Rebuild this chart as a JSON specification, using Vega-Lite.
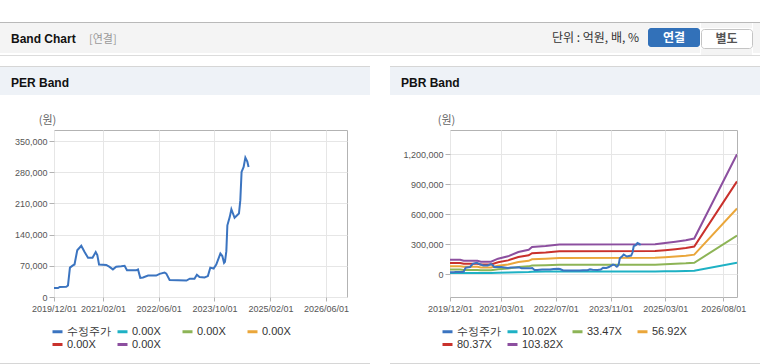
{
  "$schema": "https://vega.github.io/schema/vega-lite/v6.json",
  "padding": {"top": 22, "left": 0, "right": 0, "bottom": 0},
  "background": "white",
  "spacing": 0,
  "config": {
    "view": {"stroke": null},
    "font": "Liberation Sans",
    "title": {"anchor": "start", "frame": "group", "fontWeight": "normal", "baseline": "alphabetic", "fontSize": 12},
    "axis": {
      "labelFont": "Liberation Sans",
      "labelFontSize": 9,
      "labelColor": "#555555",
      "tickColor": "#b3b3b3",
      "domain": false,
      "gridColor": "#e6e6e6",
      "tickSize": 5,
      "labelPadding": 2,
      "titleFont": "Noto Sans CJK KR",
      "titleFontSize": 11,
      "titleColor": "#666666",
      "titleFontWeight": "normal"
    },
    "legend": {
      "orient": "none",
      "direction": "horizontal",
      "columns": 4,
      "symbolType": "stroke",
      "symbolStrokeWidth": 3,
      "symbolSize": 100,
      "labelFontSize": 11,
      "labelFont": "Liberation Sans",
      "labelColor": "#333333",
      "gridAlign": "all",
      "columnPadding": 0,
      "rowPadding": 0,
      "labelOffset": 3,
      "padding": 0
    }
  },
  "resolve": {
    "scale": {"color": "independent", "x": "independent", "y": "independent"},
    "legend": {"color": "independent"}
  },
  "datasets": {
    "price": [
      {"date": "2019-12-01", "series": "수정주가", "value": 20000},
      {"date": "2020-01-05", "series": "수정주가", "value": 20000},
      {"date": "2020-01-20", "series": "수정주가", "value": 22500},
      {"date": "2020-03-17", "series": "수정주가", "value": 23000},
      {"date": "2020-04-01", "series": "수정주가", "value": 26000},
      {"date": "2020-04-18", "series": "수정주가", "value": 66000},
      {"date": "2020-05-14", "series": "수정주가", "value": 71000},
      {"date": "2020-05-28", "series": "수정주가", "value": 73000},
      {"date": "2020-06-21", "series": "수정주가", "value": 105000},
      {"date": "2020-07-26", "series": "수정주가", "value": 115000},
      {"date": "2020-08-24", "series": "수정주가", "value": 101000},
      {"date": "2020-09-23", "series": "수정주가", "value": 88000},
      {"date": "2020-11-01", "series": "수정주가", "value": 88000},
      {"date": "2020-11-29", "series": "수정주가", "value": 101000},
      {"date": "2020-12-13", "series": "수정주가", "value": 94000},
      {"date": "2020-12-28", "series": "수정주가", "value": 73000},
      {"date": "2021-03-01", "series": "수정주가", "value": 72000},
      {"date": "2021-03-30", "series": "수정주가", "value": 67500},
      {"date": "2021-04-28", "series": "수정주가", "value": 62000},
      {"date": "2021-05-27", "series": "수정주가", "value": 68000},
      {"date": "2021-07-10", "series": "수정주가", "value": 69000},
      {"date": "2021-08-08", "series": "수정주가", "value": 70000},
      {"date": "2021-08-29", "series": "수정주가", "value": 60000},
      {"date": "2021-11-18", "series": "수정주가", "value": 60000},
      {"date": "2021-12-03", "series": "수정주가", "value": 62000},
      {"date": "2021-12-23", "series": "수정주가", "value": 43000},
      {"date": "2022-01-16", "series": "수정주가", "value": 44000},
      {"date": "2022-03-01", "series": "수정주가", "value": 48000},
      {"date": "2022-05-11", "series": "수정주가", "value": 48000},
      {"date": "2022-06-10", "series": "수정주가", "value": 52000},
      {"date": "2022-07-23", "series": "수정주가", "value": 55000},
      {"date": "2022-08-07", "series": "수정주가", "value": 52500},
      {"date": "2022-09-05", "series": "수정주가", "value": 38000},
      {"date": "2023-01-30", "series": "수정주가", "value": 37000},
      {"date": "2023-02-28", "series": "수정주가", "value": 41000},
      {"date": "2023-04-10", "series": "수정주가", "value": 41000},
      {"date": "2023-05-01", "series": "수정주가", "value": 50000},
      {"date": "2023-05-24", "series": "수정주가", "value": 45000},
      {"date": "2023-07-07", "series": "수정주가", "value": 44000},
      {"date": "2023-08-05", "series": "수정주가", "value": 47000},
      {"date": "2023-08-26", "series": "수정주가", "value": 66000},
      {"date": "2023-09-24", "series": "수정주가", "value": 64000},
      {"date": "2023-10-17", "series": "수정주가", "value": 73000},
      {"date": "2023-11-22", "series": "수정주가", "value": 97500},
      {"date": "2023-12-09", "series": "수정주가", "value": 92000},
      {"date": "2023-12-24", "series": "수정주가", "value": 76500},
      {"date": "2024-01-01", "series": "수정주가", "value": 79000},
      {"date": "2024-01-13", "series": "수정주가", "value": 103000},
      {"date": "2024-01-22", "series": "수정주가", "value": 161000},
      {"date": "2024-02-12", "series": "수정주가", "value": 180000},
      {"date": "2024-02-26", "series": "수정주가", "value": 197000},
      {"date": "2024-03-25", "series": "수정주가", "value": 178000},
      {"date": "2024-05-02", "series": "수정주가", "value": 187500},
      {"date": "2024-05-14", "series": "수정주가", "value": 217500},
      {"date": "2024-05-25", "series": "수정주가", "value": 281000},
      {"date": "2024-06-12", "series": "수정주가", "value": 292000},
      {"date": "2024-06-27", "series": "수정주가", "value": 313000},
      {"date": "2024-07-14", "series": "수정주가", "value": 304000},
      {"date": "2024-07-25", "series": "수정주가", "value": 292000}
    ],
    "pbr": [
      {"date": "2019-12-01", "series": "103.82X", "value": 146000},
      {"date": "2020-03-01", "series": "103.82X", "value": 146000},
      {"date": "2020-04-01", "series": "103.82X", "value": 136000},
      {"date": "2020-08-01", "series": "103.82X", "value": 136000},
      {"date": "2020-09-01", "series": "103.82X", "value": 126000},
      {"date": "2020-12-01", "series": "103.82X", "value": 126000},
      {"date": "2021-02-01", "series": "103.82X", "value": 156000},
      {"date": "2021-05-01", "series": "103.82X", "value": 180000},
      {"date": "2021-08-01", "series": "103.82X", "value": 223000},
      {"date": "2021-11-01", "series": "103.82X", "value": 246000},
      {"date": "2021-12-01", "series": "103.82X", "value": 273000},
      {"date": "2022-04-01", "series": "103.82X", "value": 283000},
      {"date": "2022-08-01", "series": "103.82X", "value": 297000},
      {"date": "2024-12-01", "series": "103.82X", "value": 300000},
      {"date": "2025-03-01", "series": "103.82X", "value": 312000},
      {"date": "2025-06-01", "series": "103.82X", "value": 325000},
      {"date": "2025-09-01", "series": "103.82X", "value": 340000},
      {"date": "2025-11-15", "series": "103.82X", "value": 358000},
      {"date": "2026-12-01", "series": "103.82X", "value": 1200000},
      {"date": "2019-12-01", "series": "80.37X", "value": 113000},
      {"date": "2020-03-01", "series": "80.37X", "value": 113000},
      {"date": "2020-04-01", "series": "80.37X", "value": 105300},
      {"date": "2020-08-01", "series": "80.37X", "value": 105300},
      {"date": "2020-09-01", "series": "80.37X", "value": 97500},
      {"date": "2020-12-01", "series": "80.37X", "value": 97500},
      {"date": "2021-02-01", "series": "80.37X", "value": 120700},
      {"date": "2021-05-01", "series": "80.37X", "value": 139300},
      {"date": "2021-08-01", "series": "80.37X", "value": 172600},
      {"date": "2021-11-01", "series": "80.37X", "value": 190400},
      {"date": "2021-12-01", "series": "80.37X", "value": 211300},
      {"date": "2022-04-01", "series": "80.37X", "value": 219000},
      {"date": "2022-08-01", "series": "80.37X", "value": 229900},
      {"date": "2024-12-01", "series": "80.37X", "value": 232200},
      {"date": "2025-03-01", "series": "80.37X", "value": 241500},
      {"date": "2025-06-01", "series": "80.37X", "value": 251600},
      {"date": "2025-09-01", "series": "80.37X", "value": 263200},
      {"date": "2025-11-15", "series": "80.37X", "value": 277100},
      {"date": "2026-12-01", "series": "80.37X", "value": 929000},
      {"date": "2019-12-01", "series": "56.92X", "value": 80000},
      {"date": "2020-03-01", "series": "56.92X", "value": 80000},
      {"date": "2020-04-01", "series": "56.92X", "value": 74600},
      {"date": "2020-08-01", "series": "56.92X", "value": 74600},
      {"date": "2020-09-01", "series": "56.92X", "value": 69100},
      {"date": "2020-12-01", "series": "56.92X", "value": 69100},
      {"date": "2021-02-01", "series": "56.92X", "value": 85500},
      {"date": "2021-05-01", "series": "56.92X", "value": 98700},
      {"date": "2021-08-01", "series": "56.92X", "value": 122300},
      {"date": "2021-11-01", "series": "56.92X", "value": 134900},
      {"date": "2021-12-01", "series": "56.92X", "value": 149700},
      {"date": "2022-04-01", "series": "56.92X", "value": 155200},
      {"date": "2022-08-01", "series": "56.92X", "value": 162800},
      {"date": "2024-12-01", "series": "56.92X", "value": 164500},
      {"date": "2025-03-01", "series": "56.92X", "value": 171100},
      {"date": "2025-06-01", "series": "56.92X", "value": 178200},
      {"date": "2025-09-01", "series": "56.92X", "value": 186400},
      {"date": "2025-11-15", "series": "56.92X", "value": 196300},
      {"date": "2026-12-01", "series": "56.92X", "value": 658000},
      {"date": "2019-12-01", "series": "33.47X", "value": 47100},
      {"date": "2020-03-01", "series": "33.47X", "value": 47100},
      {"date": "2020-04-01", "series": "33.47X", "value": 43800},
      {"date": "2020-08-01", "series": "33.47X", "value": 43800},
      {"date": "2020-09-01", "series": "33.47X", "value": 40600},
      {"date": "2020-12-01", "series": "33.47X", "value": 40600},
      {"date": "2021-02-01", "series": "33.47X", "value": 50300},
      {"date": "2021-05-01", "series": "33.47X", "value": 58000},
      {"date": "2021-08-01", "series": "33.47X", "value": 71900},
      {"date": "2021-11-01", "series": "33.47X", "value": 79300},
      {"date": "2021-12-01", "series": "33.47X", "value": 88000},
      {"date": "2022-04-01", "series": "33.47X", "value": 91200},
      {"date": "2022-08-01", "series": "33.47X", "value": 95800},
      {"date": "2024-12-01", "series": "33.47X", "value": 96700},
      {"date": "2025-03-01", "series": "33.47X", "value": 100600},
      {"date": "2025-06-01", "series": "33.47X", "value": 104800},
      {"date": "2025-09-01", "series": "33.47X", "value": 109600},
      {"date": "2025-11-15", "series": "33.47X", "value": 115400},
      {"date": "2026-12-01", "series": "33.47X", "value": 387000},
      {"date": "2019-12-01", "series": "10.02X", "value": 14100},
      {"date": "2020-03-01", "series": "10.02X", "value": 14100},
      {"date": "2020-04-01", "series": "10.02X", "value": 13100},
      {"date": "2020-08-01", "series": "10.02X", "value": 13100},
      {"date": "2020-09-01", "series": "10.02X", "value": 12200},
      {"date": "2020-12-01", "series": "10.02X", "value": 12200},
      {"date": "2021-02-01", "series": "10.02X", "value": 15100},
      {"date": "2021-05-01", "series": "10.02X", "value": 17400},
      {"date": "2021-08-01", "series": "10.02X", "value": 21500},
      {"date": "2021-11-01", "series": "10.02X", "value": 23700},
      {"date": "2021-12-01", "series": "10.02X", "value": 26300},
      {"date": "2022-04-01", "series": "10.02X", "value": 27300},
      {"date": "2022-08-01", "series": "10.02X", "value": 28700},
      {"date": "2024-12-01", "series": "10.02X", "value": 29000},
      {"date": "2025-03-01", "series": "10.02X", "value": 30100},
      {"date": "2025-06-01", "series": "10.02X", "value": 31400},
      {"date": "2025-09-01", "series": "10.02X", "value": 32800},
      {"date": "2025-11-15", "series": "10.02X", "value": 34500},
      {"date": "2026-12-01", "series": "10.02X", "value": 115800}
    ]
  },
  "vconcat": [
    {"width": 760, "height": 1, "data": {"values": []}, "mark": "rect", "view": {"fill": "#b9b9b9"}},
    {
      "hconcat": [
        {"width": 88, "height": 30, "data": {"values": []}, "mark": "rect", "view": {"fill": "#f4f4f4"},
         "title": {"text": "Band Chart", "dx": 11, "offset": -23, "fontSize": 12, "fontWeight": "bold", "color": "#111111"}},
        {"width": 463, "height": 30, "data": {"values": []}, "mark": "rect", "view": {"fill": "#f4f4f4"},
         "title": {"text": "[연결]", "dx": 1, "offset": -22, "fontSize": 11, "color": "#999999", "font": "Noto Sans CJK KR"}},
        {"width": 97, "height": 30, "data": {"values": []}, "mark": "rect", "view": {"fill": "#f4f4f4"},
         "title": {"text": "단위 : 억원, 배, %", "dx": 1, "offset": -22, "fontSize": 12, "color": "#333333", "font": "Noto Sans CJK KR"}},
        {
          "vconcat": [
            {"width": 52, "height": 5, "data": {"values": []}, "mark": "rect", "view": {"fill": "#f4f4f4"}},
            {"width": 52, "height": 19, "data": {"values": []}, "mark": "rect", "view": {"fill": "#3271b9", "cornerRadius": 3},
             "title": {"text": "연결", "anchor": "middle", "offset": -17, "fontSize": 12, "fontWeight": "bold", "color": "#ffffff", "font": "Noto Sans CJK KR"}},
            {"width": 52, "height": 6, "data": {"values": []}, "mark": "rect", "view": {"fill": "#f4f4f4"}}
          ],
          "spacing": 0
        },
        {
          "vconcat": [
            {"width": 51, "height": 5, "data": {"values": []}, "mark": "rect", "view": {"fill": "#f4f4f4"}},
            {"width": 51, "height": 19, "data": {"values": []}, "mark": "rect", "view": {"fill": "#ffffff", "stroke": "#c4c4c4", "cornerRadius": 3},
             "title": {"text": "별도", "anchor": "middle", "offset": -17, "fontSize": 12, "fontWeight": "bold", "color": "#555555", "font": "Noto Sans CJK KR"}},
            {"width": 51, "height": 6, "data": {"values": []}, "mark": "rect", "view": {"fill": "#f4f4f4"}}
          ],
          "spacing": 0
        },
        {"width": 9, "height": 30, "data": {"values": []}, "mark": "rect", "view": {"fill": "#f4f4f4"}}
      ],
      "spacing": 0
    },
    {"width": 760, "height": 1, "data": {"values": []}, "mark": "rect", "view": {"fill": "#dcdcdc"}},
    {"width": 760, "height": 10, "data": {"values": []}, "mark": "rect", "view": {"fill": "#ffffff"}},
    {
      "hconcat": [
        {"width": 370, "height": 1, "data": {"values": []}, "mark": "rect", "view": {"fill": "#d6d6d6"}},
        {"width": 20, "height": 1, "data": {"values": []}, "mark": "rect", "view": {"fill": "#ffffff"}},
        {"width": 370, "height": 1, "data": {"values": []}, "mark": "rect", "view": {"fill": "#d6d6d6"}}
      ],
      "spacing": 0
    },
    {
      "hconcat": [
        {"width": 370, "height": 28, "data": {"values": []}, "mark": "rect", "view": {"fill": "#eef2f7"},
         "title": {"text": "PER Band", "dx": 11, "offset": -23, "fontSize": 12, "fontWeight": "bold", "color": "#111111"}},
        {"width": 20, "height": 28, "data": {"values": []}, "mark": "rect", "view": {"fill": "#ffffff"}},
        {"width": 370, "height": 28, "data": {"values": []}, "mark": "rect", "view": {"fill": "#eef2f7"},
         "title": {"text": "PBR Band", "dx": 11, "offset": -23, "fontSize": 12, "fontWeight": "bold", "color": "#111111"}}
      ],
      "spacing": 0
    },
    {"width": 760, "height": 18, "data": {"values": []}, "mark": "rect", "view": {"fill": "#ffffff"}},
    {
      "hconcat": [
        {"width": 54, "height": 167, "data": {"values": []}, "mark": "rect", "view": {"fill": "#ffffff"}},
        {
          "width": 293, "height": 167,
          "view": {"stroke": "#b3b3b3"},
          "data": {"name": "price"},
          "mark": {"type": "line", "strokeWidth": 2, "clip": true},
          "encoding": {
            "x": {"field": "date", "type": "temporal",
                  "scale": {"domain": [{"year": 2019, "month": 12, "date": 1}, {"year": 2026, "month": 12, "date": 1}]},
                  "axis": {"title": null, "format": "%Y/%m/%d", "labelOverlap": false, "labelFlush": false, "tickSize": 4, "labelPadding": 3,
                           "values": [{"year": 2019, "month": 12, "date": 1}, {"year": 2021, "month": 2, "date": 1}, {"year": 2022, "month": 6, "date": 1}, {"year": 2023, "month": 10, "date": 1}, {"year": 2025, "month": 2, "date": 1}, {"year": 2026, "month": 6, "date": 1}]}},
            "y": {"field": "value", "type": "quantitative",
                  "scale": {"domain": [0, 375000], "nice": false, "zero": false},
                  "axis": {"title": "(원)", "titleAngle": 0, "titleAlign": "center", "titleBaseline": "middle", "titleX": -7, "titleY": -10,
                           "values": [0, 70000, 140000, 210000, 280000, 350000], "format": ",.0f"}},
            "color": {"field": "series", "type": "nominal",
                      "scale": {"domain": ["수정주가", "p1", "p2", "p3", "p4", "p5"], "range": ["#3b74c0", "#1eb1c4", "#8db456", "#eaa63a", "#c9312c", "#8c4f9f"]},
                      "legend": {"title": null, "legendX": -3, "legendY": 195, "labelExpr": "datum.label == '수정주가' ? datum.label : '0.00X'"}}
          }
        },
        {"width": 103, "height": 167, "data": {"values": []}, "mark": "rect"},
        {
          "width": 287, "height": 167,
          "view": {"stroke": "#b3b3b3"},
          "encoding": {
            "x": {"field": "date", "type": "temporal",
                  "scale": {"domain": [{"year": 2019, "month": 12, "date": 1}, {"year": 2026, "month": 12, "date": 1}]},
                  "axis": {"title": null, "format": "%Y/%m/%d", "labelOverlap": false, "labelFlush": false, "tickSize": 4, "labelPadding": 3,
                           "values": [{"year": 2019, "month": 12, "date": 1}, {"year": 2021, "month": 3, "date": 1}, {"year": 2022, "month": 7, "date": 1}, {"year": 2023, "month": 11, "date": 1}, {"year": 2025, "month": 3, "date": 1}, {"year": 2026, "month": 8, "date": 1}]}},
            "y": {"field": "value", "type": "quantitative",
                  "scale": {"domain": [-227000, 1443000], "nice": false, "zero": false},
                  "axis": {"title": "(원)", "titleAngle": 0, "titleAlign": "center", "titleBaseline": "middle", "titleX": -4, "titleY": -10,
                           "values": [0, 300000, 600000, 900000, 1200000], "format": ",.0f"}},
            "color": {"field": "series", "type": "nominal",
                      "scale": {"domain": ["수정주가", "10.02X", "33.47X", "56.92X", "80.37X", "103.82X"], "range": ["#3b74c0", "#1eb1c4", "#8db456", "#eaa63a", "#c9312c", "#8c4f9f"]},
                      "legend": {"title": null, "legendX": -9, "legendY": 195}}
          },
          "layer": [
            {"data": {"name": "pbr"}, "mark": {"type": "line", "strokeWidth": 2, "clip": true}},
            {"data": {"name": "price"}, "mark": {"type": "line", "strokeWidth": 2, "clip": true}}
          ]
        }
      ],
      "spacing": 0, "bounds": "flush",
      "resolve": {"scale": {"color": "independent", "x": "independent", "y": "independent"}, "legend": {"color": "independent"}}
    },
    {"width": 760, "height": 11, "data": {"values": []}, "mark": "rect", "view": {"fill": "#ffffff"}},
    {
      "hconcat": [
        {"width": 370, "height": 1, "data": {"values": []}, "mark": "rect", "view": {"fill": "#d6d6d6"}},
        {"width": 20, "height": 1, "data": {"values": []}, "mark": "rect", "view": {"fill": "#ffffff"}},
        {"width": 370, "height": 1, "data": {"values": []}, "mark": "rect", "view": {"fill": "#d6d6d6"}}
      ],
      "spacing": 0
    }
  ]
}
